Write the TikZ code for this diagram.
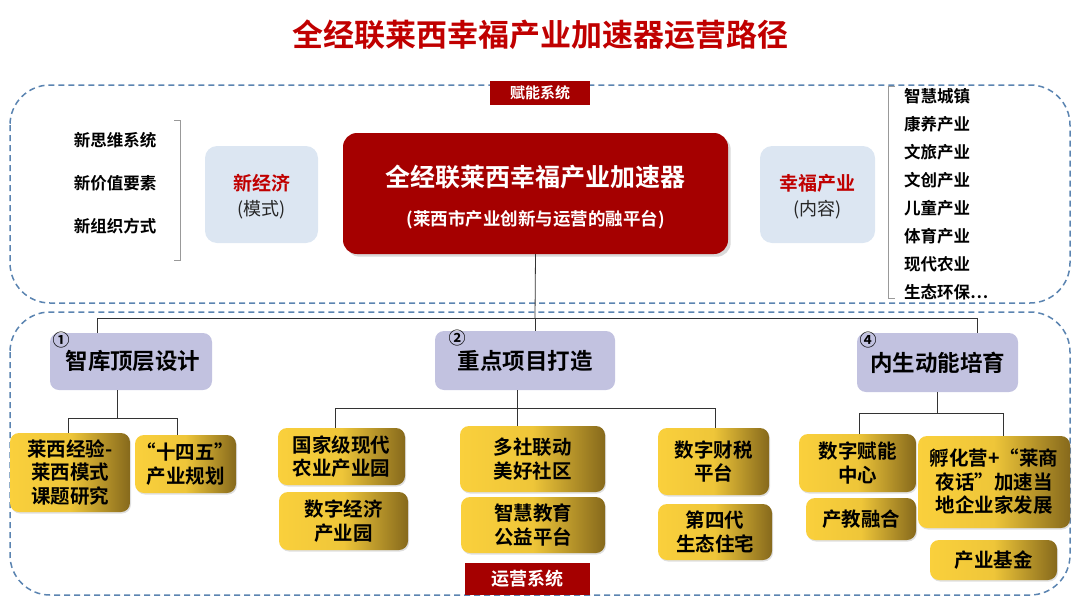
\documentclass[tikz,border=0pt]{standalone}
\usepackage{fontspec}
\setmainfont{Noto Sans CJK SC}[BoldFont={Noto Sans CJK SC Bold}]
\newfontfamily\cjkb{Noto Sans CJK SC Bold}
\usetikzlibrary{shadows}
\definecolor{dred}{HTML}{A50000}
\definecolor{tred}{HTML}{C00000}
\definecolor{lblue}{HTML}{DCE6F2}
\definecolor{dblue}{HTML}{5B84B1}
\definecolor{purp}{HTML}{C2C2E0}
\definecolor{goldl}{HTML}{FAD03C}
\definecolor{goldr}{HTML}{86691C}
\tikzset{
 frame/.style={draw=dblue,dash pattern=on 6pt off 4pt,line width=1.5pt,rounded corners=40pt},
 tag/.style={fill=dred,text=white,font=\cjkb\fontsize{15}{17}\selectfont,inner sep=0pt},
 side/.style={fill=lblue,rounded corners=12pt,draw=none},
 purpbox/.style={fill=purp,rounded corners=9pt,font=\cjkb\fontsize{22.5}{24}\selectfont,inner sep=0pt},
 gold/.style={left color=goldl,right color=goldr,middle color=goldl!90!goldr,rounded corners=9pt,
   font=\cjkb\fontsize{19.5}{23.5}\selectfont,align=center,inner sep=0pt,drop shadow={opacity=0.25,shadow xshift=1pt,shadow yshift=-1.5pt}},
 conn/.style={draw=black!80,line width=0.8pt},
 lst/.style={font=\cjkb\fontsize{16.5}{18}\selectfont,inner sep=0pt},
 num/.style={font=\cjkb\fontsize{17}{17}\selectfont,inner sep=0pt},
}
\newcommand{\gbox}[6]{\node[gold,minimum width=#4-#2,minimum height=#5-#3] (#1) at ({(#2+#4)/2},{(#3+#5)/2}) {#6};}
\begin{document}
\begin{tikzpicture}[x=1pt,y=-1pt]
\useasboundingbox (0,0) rectangle (1080,600);
\node[text=tred,font=\cjkb\fontsize{31}{33}\selectfont] (title) at (540,35) {全经联莱西幸福产业加速器运营路径};
% frames
\draw[frame] (10,85) rectangle (1070,303);
\draw[frame] (10,312) rectangle (1070,595);
\node[tag,minimum width=100,minimum height=24] (fn) at (540,93) {赋能系统};
\node[tag,minimum width=125,minimum height=32,font=\cjkb\fontsize{18}{20}\selectfont] (yy) at (527,579) {运营系统};
% left list
\node[lst] (l1) at (115,140) {新思维系统};
\node[lst] (l2) at (115,183) {新价值要素};
\node[lst] (l3) at (115,226) {新组织方式};
\draw[black!40,line width=0.8pt] (174,120) -- (180,120) -- (180,260) -- (174,260);
% side boxes
\node[side,minimum width=113,minimum height=97] (xjj) at (261.5,194.5) {};
\node[text=tred,font=\cjkb\fontsize{19}{20}\selectfont] at (261.5,183) {新经济};
\node[font=\fontsize{18}{19}\selectfont,text=black!85] at (261.5,210) {(模式)};
\node[side,minimum width=115,minimum height=97] (xfcy) at (817.5,194.5) {};
\node[text=tred,font=\cjkb\fontsize{19}{20}\selectfont] at (817.5,183) {幸福产业};
\node[font=\fontsize{18}{19}\selectfont,text=black!85] at (817.5,210) {(内容)};
% center
\node[fill=dred,rounded corners=14pt,minimum width=385,minimum height=121,drop shadow={opacity=0.3}] (core) at (535.5,193.5) {};
\node[text=white,font=\cjkb\fontsize{25}{27}\selectfont] at (535.5,177) {全经联莱西幸福产业加速器};
\node[text=white,font=\cjkb\fontsize{17.5}{19}\selectfont] at (535.5,220) {(莱西市产业创新与运营的融平台)};
% right list
\draw[black!40,line width=0.8pt] (895,86) -- (888,86) -- (888,298) -- (895,298);
\foreach \t/\y [count=\i] in {智慧城镇/96,康养产业/124,文旅产业/152,文创产业/180,儿童产业/208,体育产业/236,现代农业/264}
  \node[lst,anchor=west] (r\i) at (904,\y) {\t};
\node[lst,anchor=west] (r8) at (904,292) {生态环保…};
% purple boxes
\node[purpbox,minimum width=162,minimum height=57] (p1) at (131,361.5) {\hspace*{4pt}智库顶层设计};
\node[purpbox,minimum width=180,minimum height=59] (p2) at (525,360.5) {重点项目打造};
\node[purpbox,minimum width=161,minimum height=59] (p4) at (937.5,362.5) {内生动能培育};
\node[num] at (61,340) {①};
\node[num] at (457,338) {②};
\node[num] at (868,340) {④};
% top connectors
\coordinate (j0) at (535,318);
\draw[conn] (core.south) -- (j0);
\draw[conn] (97,333) -- (97,318) -- (977,318) -- (977,333);
\draw[conn] (j0) -- (535,331);
% gold boxes
\gbox{g1}{10}{433}{130}{512}{莱西经验-\\莱西模式\\课题研究}
\gbox{g2}{135}{435}{236}{493}{“十四五”\\产业规划}
\gbox{g3}{278}{428}{405}{485}{国家级现代\\农业产业园}
\gbox{g4}{279}{492}{408}{550}{数字经济\\产业园}
\gbox{g5}{460}{426}{605}{492}{多社联动\\美好社区}
\gbox{g6}{461}{497}{605}{553}{智慧教育\\公益平台}
\gbox{g7}{658}{428}{769}{495}{数字财税\\平台}
\gbox{g8}{658}{504}{772}{560}{第四代\\生态住宅}
\gbox{g9}{799}{434}{916}{492}{数字赋能\\中心}
\gbox{g10}{806}{498}{916}{540}{产教融合}
\gbox{g11}{918}{436}{1070}{528}{孵化营+“莱商\\夜话”加速当\\地企业家发展}
\gbox{g12}{930}{540}{1057}{580}{产业基金}
% sub connectors
\draw[conn] (117,390) -- (117,418);
\draw[conn] (68,433) -- (68,418) -- (177,418) -- (177,435);
\draw[conn] (335,428) -- (335,408) -- (715,408) -- (715,428);
\draw[conn] (517,390) -- (517,426);
\draw[conn] (937,392) -- (937,413);
\draw[conn] (859,434) -- (859,413) -- (1003,413) -- (1003,436);
\end{tikzpicture}
\end{document}
